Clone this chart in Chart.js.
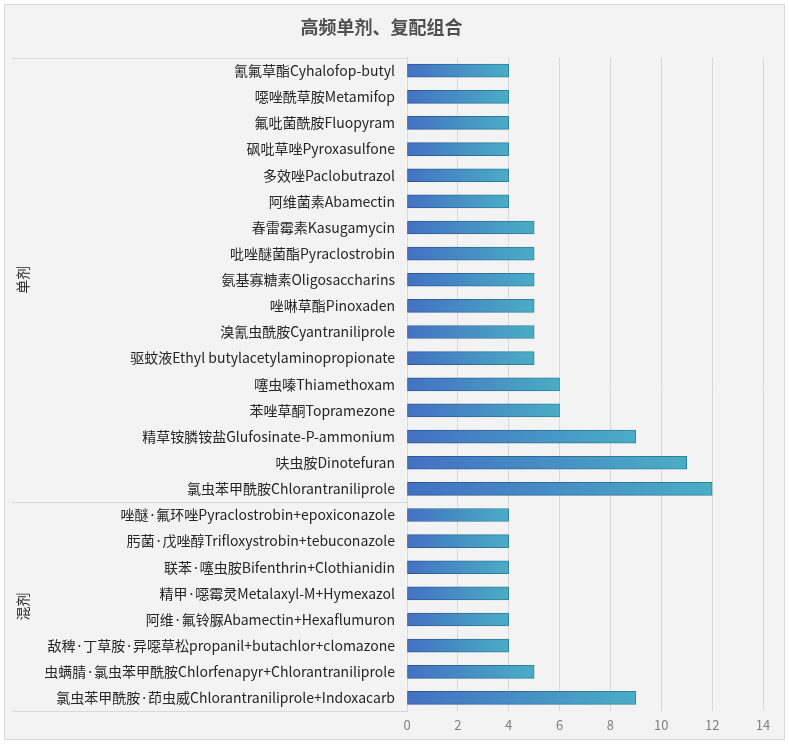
<!DOCTYPE html>
<html>
<head>
<meta charset="utf-8">
<script src="https://cdn.jsdelivr.net/npm/chart.js@4/dist/chart.umd.min.js"></script>
<style>
  html, body { margin: 0; padding: 0; background: #fff; }
  #wrap { width: 789px; height: 746px; }
</style>
</head>
<body>
<div id="wrap"><canvas id="chart" width="789" height="746"></canvas></div>
<script>
var chartTitle = '高频单剂、复配组合';

var singleLabels = [
  '氰氟草酯Cyhalofop-butyl',
  '噁唑酰草胺Metamifop',
  '氟吡菌酰胺Fluopyram',
  '砜吡草唑Pyroxasulfone',
  '多效唑Paclobutrazol',
  '阿维菌素Abamectin',
  '春雷霉素Kasugamycin',
  '吡唑醚菌酯Pyraclostrobin',
  '氨基寡糖素Oligosaccharins',
  '唑啉草酯Pinoxaden',
  '溴氰虫酰胺Cyantraniliprole',
  '驱蚊液Ethyl butylacetylaminopropionate',
  '噻虫嗪Thiamethoxam',
  '苯唑草酮Topramezone',
  '精草铵膦铵盐Glufosinate-P-ammonium',
  '呋虫胺Dinotefuran',
  '氯虫苯甲酰胺Chlorantraniliprole'
];
var singleValues = [4, 4, 4, 4, 4, 4, 5, 5, 5, 5, 5, 5, 6, 6, 9, 11, 12];

var mixLabels = [
  '唑醚·氟环唑Pyraclostrobin+epoxiconazole',
  '肟菌·戊唑醇Trifloxystrobin+tebuconazole',
  '联苯·噻虫胺Bifenthrin+Clothianidin',
  '精甲·噁霉灵Metalaxyl-M+Hymexazol',
  '阿维·氟铃脲Abamectin+Hexaflumuron',
  '敌稗·丁草胺·异噁草松propanil+butachlor+clomazone',
  '虫螨腈·氯虫苯甲酰胺Chlorfenapyr+Chlorantraniliprole',
  '氯虫苯甲酰胺·茚虫威Chlorantraniliprole+Indoxacarb'
];
var mixValues = [4, 4, 4, 4, 4, 4, 5, 9];

var groupNames = ['单剂', '混剂'];

var xMin = 0, xMax = 14, xStep = 2;

var allLabels = singleLabels.concat(mixLabels);
var allValues = singleValues.concat(mixValues);

var fontFamily = '"Noto Sans CJK SC", "Noto Sans", sans-serif';
// JP variant keeps the middle dot narrow
var labelFamily = '"Noto Sans CJK JP", "Noto Sans CJK SC", sans-serif';

// gradient along each bar, from its base to its end
function barGradient(ctx, c1, c2) {
  var chart = ctx.chart;
  var xs = chart.scales.x;
  if (!xs || ctx.dataIndex === undefined) return c1;
  var x0 = xs.getPixelForValue(0);
  var x1 = xs.getPixelForValue(allValues[ctx.dataIndex]);
  if (!isFinite(x0) || !isFinite(x1) || x1 === x0) return c1;
  var g = chart.ctx.createLinearGradient(x0, 0, x1, 0);
  g.addColorStop(0, c1);
  g.addColorStop(1, c2);
  return g;
}

// panel background, group separators and group names
var groupPlugin = {
  id: 'groups',
  beforeDraw: function(chart) {
    var c = chart.ctx;
    c.save();
    c.fillStyle = '#ffffff';
    c.fillRect(0, 0, chart.width, chart.height);
    c.fillStyle = '#f3f3f3';
    c.fillRect(4, 4, chart.width - 8, chart.height - 10);
    c.strokeStyle = '#d9d9d9';
    c.lineWidth = 1;
    c.strokeRect(4.5, 4.5, chart.width - 9, chart.height - 11);
    c.restore();
  },
  afterDraw: function(chart) {
    var c = chart.ctx;
    var area = chart.chartArea;
    var ys = chart.scales.y;
    var split = (ys.getPixelForValue(singleLabels.length - 1) + ys.getPixelForValue(singleLabels.length)) / 2;
    c.save();
    c.strokeStyle = '#d9d9d9';
    c.lineWidth = 1;
    [area.top, split, area.bottom].forEach(function(y) {
      c.beginPath();
      c.moveTo(12, Math.round(y) + 0.5);
      c.lineTo(area.left, Math.round(y) + 0.5);
      c.stroke();
    });
    c.fillStyle = '#262626';
    c.font = '14px ' + fontFamily;
    c.textAlign = 'center';
    c.textBaseline = 'middle';
    var centers = [(area.top + split) / 2, (split + area.bottom) / 2];
    for (var i = 0; i < groupNames.length; i++) {
      c.save();
      c.translate(23, centers[i]);
      c.rotate(-Math.PI / 2);
      c.fillText(groupNames[i], 0, 0);
      c.restore();
    }
    c.restore();
  }
};

new Chart(document.getElementById('chart'), {
  type: 'bar',
  data: {
    labels: allLabels,
    datasets: [{
      data: allValues,
      barThickness: 13,
      borderWidth: 1,
      borderSkipped: false,
      backgroundColor: function(ctx) { return barGradient(ctx, '#4371c3', '#4aadc6'); },
      borderColor: function(ctx) { return barGradient(ctx, '#2f5597', '#2f8497'); }
    }]
  },
  options: {
    indexAxis: 'y',
    responsive: false,
    animation: false,
    layout: { padding: { left: 0, right: 26, top: 0, bottom: 0 } },
    plugins: {
      legend: { display: false },
      tooltip: { enabled: false },
      title: {
        display: true,
        text: chartTitle,
        color: '#505050',
        font: { family: fontFamily, size: 18, weight: 'bold' },
        padding: { top: 16, bottom: 20 }
      }
    },
    scales: {
      x: {
        min: xMin,
        max: xMax,
        afterFit: function(axis) { axis.height = 35; },
        ticks: {
          stepSize: xStep,
          color: '#808080',
          padding: 6,
          font: { family: fontFamily, size: 13 }
        },
        grid: { color: '#d9d9d9', drawTicks: false },
        border: { display: false }
      },
      y: {
        afterFit: function(axis) { axis.width = 407; },
        ticks: {
          color: '#262626',
          padding: 12,
          autoSkip: false,
          font: { family: labelFamily, size: 14 }
        },
        grid: { display: false, drawTicks: false },
        border: { display: true, color: '#d9d9d9' }
      }
    }
  },
  plugins: [groupPlugin]
});
</script>
</body>
</html>
